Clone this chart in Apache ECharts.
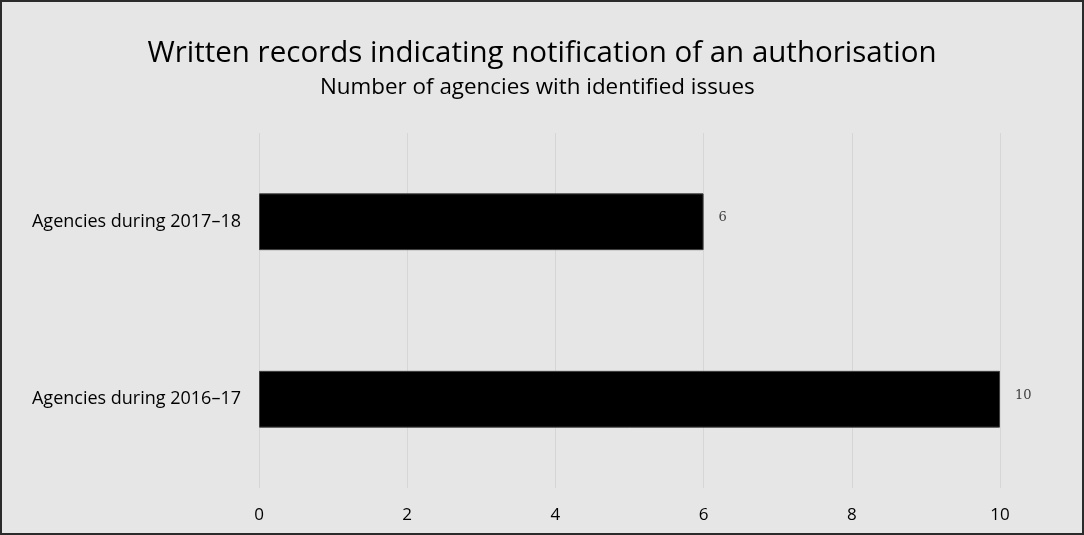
<!DOCTYPE html>
<html>
<head>
<meta charset="utf-8">
<script src="https://cdn.jsdelivr.net/npm/echarts@6/dist/echarts.min.js"></script>
<style>
  html, body { margin: 0; padding: 0; background: #fff; }
  #chart {
    width: 1084px; height: 535px; box-sizing: border-box;
    border: 2px solid #2b2b2b; background: #e6e6e6;
  }
</style>
</head>
<body>
<div id="chart"></div>
<script>
// categories bottom -> top
const categories = ["Agencies during 2016–17", "Agencies during 2017–18"];
const agencyCounts = [10, 6];
const xTicks = [0, 2, 4, 6, 8, 10];

const font = "'Open Sans', 'Noto Sans', sans-serif";
let myChart = echarts.init(document.getElementById("chart"));
let option = {
  backgroundColor: "#e6e6e6",
  title: [
    {
      text: "Written records indicating notification of an authorisation",
      left: "center",
      top: 32,
      textStyle: { fontFamily: font, fontSize: 29.5, fontWeight: "normal", color: "#000" }
    },
    {
      // subtitle sits a little left of centre in the original
      text: "Number of agencies with identified issues",
      left: 313,
      top: 70,
      textStyle: { fontFamily: font, fontSize: 22.4, fontWeight: "normal", color: "#000" }
    }
  ],
  grid: { left: 257, right: 82, top: 131, bottom: 45 },
  xAxis: {
    type: "value",
    min: xTicks[0],
    max: xTicks[xTicks.length - 1],
    interval: 2,
    axisLine: { show: false },
    axisTick: { show: false },
    splitLine: { lineStyle: { color: "#d6d6d6", width: 1 } },
    axisLabel: { fontFamily: font, fontSize: 17, color: "#000", margin: 19 }
  },
  yAxis: {
    type: "category",
    data: categories,
    axisLine: { show: false },
    axisTick: { show: false },
    axisLabel: { fontFamily: font, fontSize: 18, color: "#000", margin: 18 }
  },
  series: [
    {
      type: "bar",
      data: agencyCounts,
      barWidth: "32%",
      itemStyle: { color: "#000", borderColor: "#404040", borderWidth: 1 },
      label: {
        show: true,
        position: "right",
        distance: 15,
        fontFamily: "'DejaVu Serif', 'Liberation Serif', serif",
        fontSize: 13,
        color: "#404040",
        offset: [0, -4]
      }
    }
  ]
};
myChart.setOption(option);
</script>
</body>
</html>
